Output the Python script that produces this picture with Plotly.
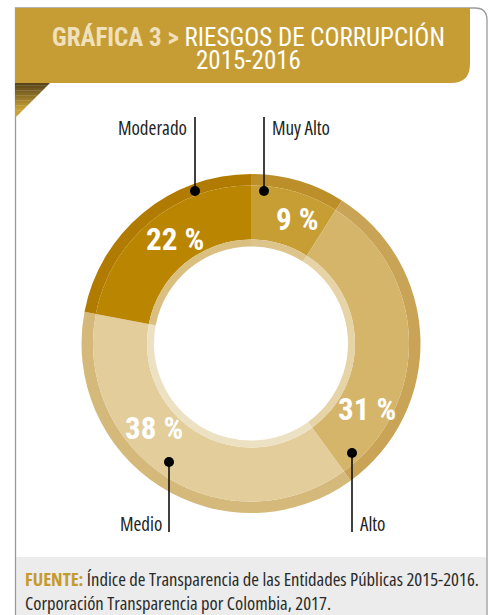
import plotly.graph_objects as go

W, H = 491, 615

# data (clockwise from 12 o'clock)
categories = ['Muy Alto', 'Alto', 'Medio', 'Moderado']
values = [9, 31, 38, 22]
pct_labels = ['9 %', '31 %', '38 %', '22 %']

main_colors = ['#C69E34', '#D4B56A', '#E2CD9B', '#BA8500']
rim_colors = ['#BC8F2B', '#C9A457', '#D5B97B', '#B07B00']
inner_colors = ['#DCC48A', '#E6D3A6', '#EDE1C3', '#D9BF80']

TITLE_FONT = 'Roboto Condensed, Roboto, sans-serif'
BODY_FONT = 'Open Sans, Roboto Condensed, sans-serif'


def px_x(x):
    return x / W


def px_y(y):
    return 1 - y / H


def cond(t):
    return f"<span style='font-stretch:75%'>{t}</span>"


cx, cy = 251, 343.5
r_out, r_main, r_in, r_hole = 169.5, 158, 104, 97


def dom(r):
    return dict(x=[px_x(cx - r), px_x(cx + r)], y=[px_y(cy + r), px_y(cy - r)])


fig = go.Figure()
for r, hole, cols in [(r_out, r_main / r_out, rim_colors),
                      (r_main, r_in / r_main, main_colors),
                      (r_in, r_hole / r_in, inner_colors)]:
    fig.add_trace(go.Pie(
        labels=categories, values=values, sort=False, direction='clockwise',
        rotation=0, hole=hole, domain=dom(r), textinfo='none',
        marker=dict(colors=cols, line=dict(width=0)), hoverinfo='label+percent',
        showlegend=False,
    ))

shapes = []
# card border
shapes.append(dict(type='path', xref='paper', yref='paper',
                   path=f'M {px_x(15.5)} {px_y(615)} L {px_x(15.5)} {px_y(8)} L {px_x(475)} {px_y(8)} '
                        f'Q {px_x(487)} {px_y(8)} {px_x(487)} {px_y(20)} L {px_x(487)} {px_y(615)}',
                   line=dict(color='#9A9A9A', width=1.3)))
# footer band
shapes.append(dict(type='rect', xref='paper', yref='paper',
                   x0=px_x(16.2), x1=px_x(486.3), y0=px_y(615), y1=px_y(557),
                   fillcolor='#EBECEB', line=dict(width=0), layer='below'))
# header band with rounded bottom-right corner
shapes.append(dict(type='path', xref='paper', yref='paper',
                   path=f'M {px_x(15)} {px_y(8)} L {px_x(470)} {px_y(8)} L {px_x(470)} {px_y(64)} '
                        f'Q {px_x(470)} {px_y(83)} {px_x(451)} {px_y(83)} L {px_x(15)} {px_y(83)} Z',
                   fillcolor='#C59D34', line=dict(width=0)))
# folded corner triangle, shaded from dark (top) to gold
dark, gold = (0x5A, 0x46, 0x1A), (0xC8, 0xA0, 0x36)
n = 14
for i in range(n):
    t = min(1.0, i / (n * 0.7))
    c = 'rgb(%d,%d,%d)' % tuple(round(d + (g - d) * t) for d, g in zip(dark, gold))
    y0 = 83 + 35 * i / n
    y1 = 83 + 35 * (i + 1) / n + 0.3
    shapes.append(dict(type='path', xref='paper', yref='paper',
                       path=f'M {px_x(15)} {px_y(y0)} L {px_x(50 - (y0 - 83))} {px_y(y0)} '
                            f'L {px_x(50 - (y1 - 83))} {px_y(y1)} L {px_x(15)} {px_y(y1)} Z',
                       fillcolor=c, line=dict(width=0)))

# callout leaders: (line x, dot y, end y)
leaders = [(264, 191, 117), (352, 453, 532), (169, 462, 532), (195, 191, 117)]
for lx, dy, ey in leaders:
    shapes.append(dict(type='line', xref='paper', yref='paper',
                       x0=px_x(lx), x1=px_x(lx), y0=px_y(dy), y1=px_y(ey),
                       line=dict(color='#111111', width=1.6)))
    shapes.append(dict(type='circle', xref='paper', yref='paper',
                       x0=px_x(lx - 5), x1=px_x(lx + 5), y0=px_y(dy + 5), y1=px_y(dy - 5),
                       fillcolor='#000000', line=dict(width=0)))

annotations = []
# title, two lines
annotations.append(dict(
    xref='paper', yref='paper', x=px_x(248), y=px_y(37), xanchor='center', yanchor='middle',
    text="<b><span style='color:#F0E0BC'>GRÁFICA 3 ></span></b> RIESGOS DE CORRUPCIÓN",
    showarrow=False, font=dict(family=TITLE_FONT, size=25, color='#FFFFFF')))
annotations.append(dict(
    xref='paper', yref='paper', x=px_x(248), y=px_y(61), xanchor='center', yanchor='middle',
    text="2015-2016", showarrow=False, font=dict(family=TITLE_FONT, size=25, color='#FFFFFF')))

# percentage labels inside the ring
pct_pos = [(297, 220), (367, 409), (154, 428), (175, 239)]
for t, (x, y) in zip(pct_labels, pct_pos):
    annotations.append(dict(xref='paper', yref='paper', x=px_x(x), y=px_y(y),
                            xanchor='center', yanchor='middle', text=f'<b>{t}</b>', showarrow=False,
                            font=dict(family=TITLE_FONT, size=31, color='#FFFFFF')))

# category callout text: (x, y, anchor)
cat_pos = [(270, 128, 'left'), (358, 524, 'left'), (164, 524, 'right'), (189, 128, 'right')]
for t, (x, y, a) in zip(categories, cat_pos):
    annotations.append(dict(xref='paper', yref='paper', x=px_x(x), y=px_y(y),
                            xanchor=a, yanchor='middle', text=cond(t), showarrow=False,
                            font=dict(family=BODY_FONT, size=19, color='#222222')))

# source note
annotations.append(dict(
    xref='paper', yref='paper', x=px_x(23), y=px_y(590), xanchor='left', yanchor='middle',
    text=cond("<b><span style='color:#C59A2E'>FUENTE:</span></b> Índice de Transparencia de las Entidades Públicas 2015-2016.")
    + "<br>" + cond("Corporación Transparencia por Colombia, 2017."),
    showarrow=False, align='left', font=dict(family=BODY_FONT, size=18.6, color='#2A2A2A')))

fig.update_layout(
    width=W, height=H, margin=dict(l=0, r=0, t=0, b=0, pad=0),
    paper_bgcolor='#FFFFFF', plot_bgcolor='#FFFFFF',
    shapes=shapes, annotations=annotations,
)

fig.write_html("out.html", config={'displayModeBar': False},
               post_script="document.body.style.margin='0';")
